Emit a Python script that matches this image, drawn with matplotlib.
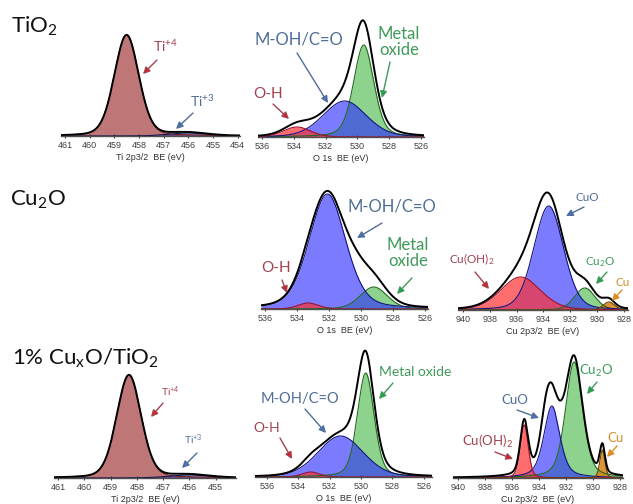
import numpy as np
import matplotlib.pyplot as plt

plt.rcParams['font.family'] = ['Lato', 'DejaVu Sans']
plt.rcParams['mathtext.fontset'] = 'custom'
plt.rcParams['mathtext.rm'] = 'Lato'
plt.rcParams['mathtext.it'] = 'Lato:italic'
plt.rcParams['mathtext.bf'] = 'Lato:bold'

W, H = 633, 504

# Peak fits: kind, position (eV), FWHM (eV), height (a.u.), Lorentz fraction
# kind 'none' = part of the measured envelope that is not shaded
ti1_kind = ['ti4', 'ti3']
ti1_pos = [458.5, 456.0]
ti1_fwhm = [1.17, 1.8]
ti1_amp = [101, 3]
ti1_mix = [0.2, 0.3]

o1_kind = ['green', 'blue', 'red']
o1_pos = [529.6, 530.8, 533.8]
o1_fwhm = [1.5, 3.2, 2.0]
o1_amp = [92, 36, 10]
o1_mix = [0.3, 0.2, 0.2]

o2_kind = ['green', 'blue', 'red', 'none']
o2_pos = [529.2, 532.1, 533.3, 530.3]
o2_fwhm = [2.0, 2.7, 1.5, 1.8]
o2_amp = [22, 115, 6, 14]
o2_mix = [0.2, 0.3, 0.2, 0.3]

cu2_kind = ['green', 'blue', 'red', 'orange']
cu2_pos = [930.9, 933.6, 935.7, 929.1]
cu2_fwhm = [1.8, 2.6, 3.5, 1.0]
cu2_amp = [22, 104, 33, 8]
cu2_mix = [0.2, 0.2, 0.2, 0.2]

ti3_kind = ['ti4', 'ti3']
ti3_pos = [458.3, 456.0]
ti3_fwhm = [1.1, 1.8]
ti3_amp = [103, 3]
ti3_mix = [0.2, 0.3]

o3_kind = ['green', 'blue', 'red']
o3_pos = [529.7, 531.3, 533.2]
o3_fwhm = [1.25, 3.4, 1.3]
o3_amp = [104, 41, 5]
o3_mix = [0.3, 0.2, 0.2]

cu3_kind = ['green', 'blue', 'red', 'orange', 'none']
cu3_pos = [931.4, 933.05, 935.1, 929.3, 933.5]
cu3_fwhm = [1.5, 1.4, 0.7, 0.45, 0.9]
cu3_amp = [116, 72, 53, 28, 24]
cu3_mix = [0.4, 0.5, 0.3, 0.3, 0.2]

ti_ticks = [461, 460, 459, 458, 457, 456, 455, 454]
o_ticks = [536, 534, 532, 530, 528, 526]
cu_ticks = [940, 938, 936, 934, 932, 930, 928]

style = {
    'ti4': ('#a84848', 0.75, '#7a1f1f'),
    'ti3': ('#2a2a90', 0.6, '#101050'),
    'red': ('#ff3030', 0.7, '#a0102a'),
    'blue': ('#2a2aff', 0.62, '#151580'),
    'green': ('#30b030', 0.55, '#1f6a1f'),
    'orange': ('#d98010', 0.85, '#6a4000'),
}
order = ['ti4', 'ti3', 'green', 'blue', 'red', 'orange']

fig = plt.figure(figsize=(W / 100, H / 100), dpi=100)


def pv(x, c, w, h, m):
    d = ((x - c) / w) ** 2
    return h * ((1 - m) * np.exp(-4 * np.log(2) * d) + m / (1 + 4 * d))


def panel(left, top, right, base, xlim, ticks, label, kind, pos, fwhm, amp, mix):
    ax = fig.add_axes([left / W, 1 - base / H, (right - left) / W, (base - top) / H])
    x = np.linspace(min(xlim), max(xlim), 1200)
    env = np.zeros_like(x)
    curves = {}
    for k, c, w, h, m in zip(kind, pos, fwhm, amp, mix):
        y = pv(x, c, w, h, m)
        env += y
        if k != 'none':
            curves[k] = y
    for k in order:
        if k in curves:
            fc, a, ec = style[k]
            ax.fill_between(x, curves[k], color=fc, alpha=a, lw=0)
            ax.plot(x, curves[k], color=ec, lw=0.8)
    ax.plot(x, env, color='black', lw=1.4)
    ax.set_xlim(xlim)
    ax.set_ylim(0, base - top)
    ax.set_xticks(ticks)
    ax.tick_params(axis='x', direction='inout', length=3, width=0.8, pad=2,
                   labelsize=6.5, colors='#404040')
    for t in ax.get_xticklabels():
        t.set_fontfamily('Liberation Sans')
    ax.set_xlabel(label, fontsize=6.5, family='Liberation Sans', color='#303030', labelpad=2)
    ax.set_yticks([])
    for s in ['left', 'right', 'top']:
        ax.spines[s].set_visible(False)
    ax.spines['bottom'].set_color('#505050')
    ax.spines['bottom'].set_linewidth(1.0)
    ax.patch.set_alpha(0)
    return ax


panel(61, 10, 240, 136, (461.16, 453.9), ti_ticks, 'Ti 2p3/2  BE (eV)',
      ti1_kind, ti1_pos, ti1_fwhm, ti1_amp, ti1_mix)
panel(258, 10, 424, 137, (536.25, 525.81), o_ticks, 'O 1s  BE (eV)',
      o1_kind, o1_pos, o1_fwhm, o1_amp, o1_mix)
panel(261, 180, 428, 309, (536.25, 525.81), o_ticks, 'O 1s  BE (eV)',
      o2_kind, o2_pos, o2_fwhm, o2_amp, o2_mix)
panel(458, 180, 628, 310, (940.37, 927.68), cu_ticks, 'Cu 2p3/2  BE (eV)',
      cu2_kind, cu2_pos, cu2_fwhm, cu2_amp, cu2_mix)
panel(54, 350, 236, 478, (461.15, 454.23), ti_ticks[:-1], 'Ti 2p3/2  BE (eV)',
      ti3_kind, ti3_pos, ti3_fwhm, ti3_amp, ti3_mix)
panel(255, 340, 432, 477, (536.75, 525.48), o_ticks, 'O 1s  BE (eV)',
      o3_kind, o3_pos, o3_fwhm, o3_amp, o3_mix)
panel(453, 350, 623, 478, (940.39, 927.77), cu_ticks, 'Cu 2p3/2  BE (eV)',
      cu3_kind, cu3_pos, cu3_fwhm, cu3_amp, cu3_mix)


def fx(px, py):
    return (px / W, 1 - py / H)


t_red, t_blue, t_green, t_orange = '#a3414f', '#4f6f98', '#3f9a5a', '#d98c2a'
h_red, h_blue, h_green, h_orange = '#e8141c', '#4472c4', '#1fa34a', '#ef8a17'


def note(text, at, start, end, tc, hc, size, ls=1.0):
    fig.text(*fx(*at), text, ha='center', va='center', fontsize=size, color=tc,
             linespacing=ls)
    fig.add_artist(plt.Annotation('', xy=fx(*end), xytext=fx(*start),
                                  xycoords='figure fraction',
                                  arrowprops=dict(arrowstyle='-|>', fc=hc, ec=tc,
                                                  lw=1.0, mutation_scale=10,
                                                  shrinkA=0, shrinkB=0)))


# sample names
fig.text(*fx(11, 33), 'TiO$_2$', fontsize=16, color='#111111', va='baseline')
fig.text(*fx(10, 206), 'Cu$_2$O', fontsize=16, color='#111111', va='baseline')
fig.text(*fx(12, 365), '1% Cu$_\\mathrm{x}$O/TiO$_2$', fontsize=16, color='#111111',
         va='baseline')

# row 1
note('Ti$^{+4}$', (165, 46), (157, 60), (143, 74), t_red, h_red, 10)
note('Ti$^{+3}$', (202, 101), (193, 113), (176, 129), t_blue, h_blue, 10)
note('M-OH/C=O', (299, 40), (297, 53), (328, 103), t_blue, h_blue, 12)
note('O-H', (268, 94), (273, 104), (289, 119), t_red, h_red, 11)
note('Metal\noxide', (399, 42), (390, 62), (382, 98), t_green, h_green, 12, 0.95)

# row 2
note('M-OH/C=O', (392, 206), (382, 223), (357, 238), t_blue, h_blue, 12)
note('Metal\noxide', (408, 253), (412, 278), (397, 294), t_green, h_green, 12, 0.95)
note('O-H', (276, 268), (282, 280), (287, 293), t_red, h_red, 11)
note('Cu(OH)$_2$', (472, 259), (475, 272), (489, 289), t_red, h_red, 8.5)
note('CuO', (587, 198), (584, 207), (566, 216), t_blue, h_blue, 8.5)
note('Cu$_2$O', (600, 262), (607, 272), (596, 284), t_green, h_green, 8.5)
note('Cu', (623, 282), (622, 290), (612, 301), t_orange, h_orange, 8.5)

# row 3
note('Ti$^{+4}$', (170, 392), (163, 403), (151, 417), t_red, h_red, 7.5)
note('Ti$^{+3}$', (193, 440), (197, 453), (182, 468), t_blue, h_blue, 7.5)
note('M-OH/C=O', (300, 399), (305, 409), (326, 433), t_blue, h_blue, 10.5)
note('O-H', (267, 428), (280, 438), (292, 459), t_red, h_red, 10)
note('Metal oxide', (415, 372), (393, 383), (379, 399), t_green, h_green, 10)
note('Cu$_2$O', (596, 371), (597, 382), (587, 394), t_green, h_green, 9.5)
note('CuO', (515, 400), (517, 410), (539, 418), t_blue, h_blue, 9.5)
note('Cu(OH)$_2$', (488, 441), (495, 452), (513, 459), t_red, h_red, 9.5)
note('Cu', (615, 438), (617, 446), (607, 457), t_orange, h_orange, 9.5)

fig.savefig('out.png', dpi=100)
